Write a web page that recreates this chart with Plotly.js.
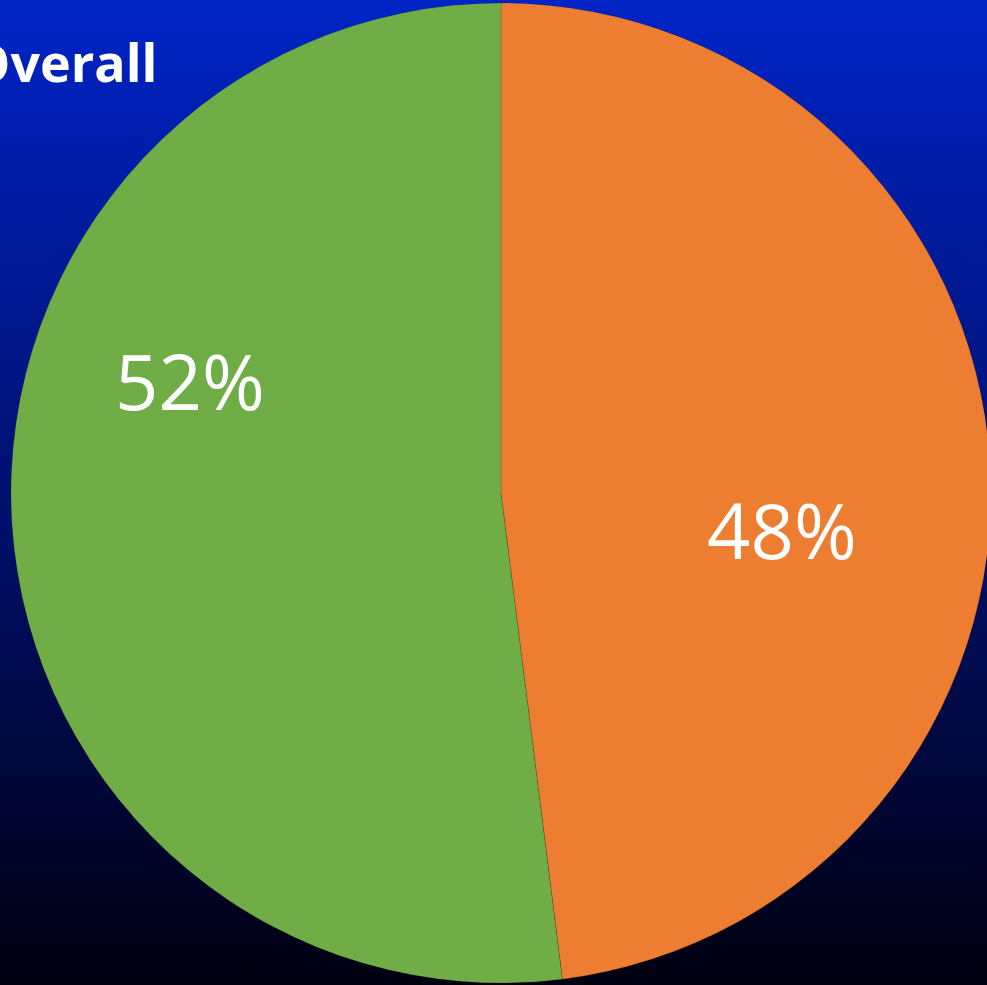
<!DOCTYPE html>
<html>
<head>
<meta charset="utf-8">
<script src="https://cdn.plot.ly/plotly-3.0.1.min.js"></script>
<style>
  html, body { margin: 0; padding: 0; overflow: hidden; width: 987px; height: 985px;
    background: linear-gradient(to bottom, #0024c6 0%, #001a9a 25%, #001070 50%, #000840 75%, #00000f 100%); }
  #chart { position: absolute; left: -31px; top: 0; width: 1031px; height: 985px; }
</style>
</head>
<body>
<div id="chart"></div>
<script>
const categories = ["Group A", "Group B"];
const values = [48, 52];
const colors = ["#ED7D31", "#70AD47"];
const labelText = ["48%", "52%"];
const chartTitle = "Overall";

const OFF = 31;
const W = 1031, H = 985;
const trace = {
  type: "pie",
  labels: categories,
  values: values,
  sort: false,
  direction: "clockwise",
  rotation: 0,
  marker: { colors: colors, line: { color: "rgba(0,0,0,0.25)", width: 0.5 } },
  textinfo: "none",
  hoverinfo: "label+percent",
  showlegend: false,
  domain: { x: [(11 + OFF) / W, (991 + OFF) / W], y: [2 / H, 982 / H] }
};

const labelFont = { family: "Open Sans, sans-serif", size: 76, color: "#ffffff" };
const layout = {
  width: W, height: H,
  margin: { l: 0, r: 0, t: 0, b: 0 },
  paper_bgcolor: "rgba(0,0,0,0)",
  plot_bgcolor: "rgba(0,0,0,0)",
  showlegend: false,
  title: {
    text: "<b>" + chartTitle + "</b>",
    font: { family: "Open Sans, sans-serif", size: 52, color: "#ffffff" },
    x: 0, xref: "container", xanchor: "left",
    y: 1 - 64 / H, yref: "container", yanchor: "middle",
    pad: { l: 0, r: 0, t: 0, b: 0 }
  },
  annotations: [
    { text: labelText[0], xref: "paper", yref: "paper", x: (782 + OFF) / W, y: 1 - 529 / H,
      xanchor: "center", yanchor: "middle", showarrow: false, font: labelFont },
    { text: labelText[1], xref: "paper", yref: "paper", x: (190 + OFF) / W, y: 1 - 380 / H,
      xanchor: "center", yanchor: "middle", showarrow: false, font: labelFont }
  ]
};

Plotly.newPlot("chart", [trace], layout, { displayModeBar: false, staticPlot: true });
</script>
</body>
</html>
